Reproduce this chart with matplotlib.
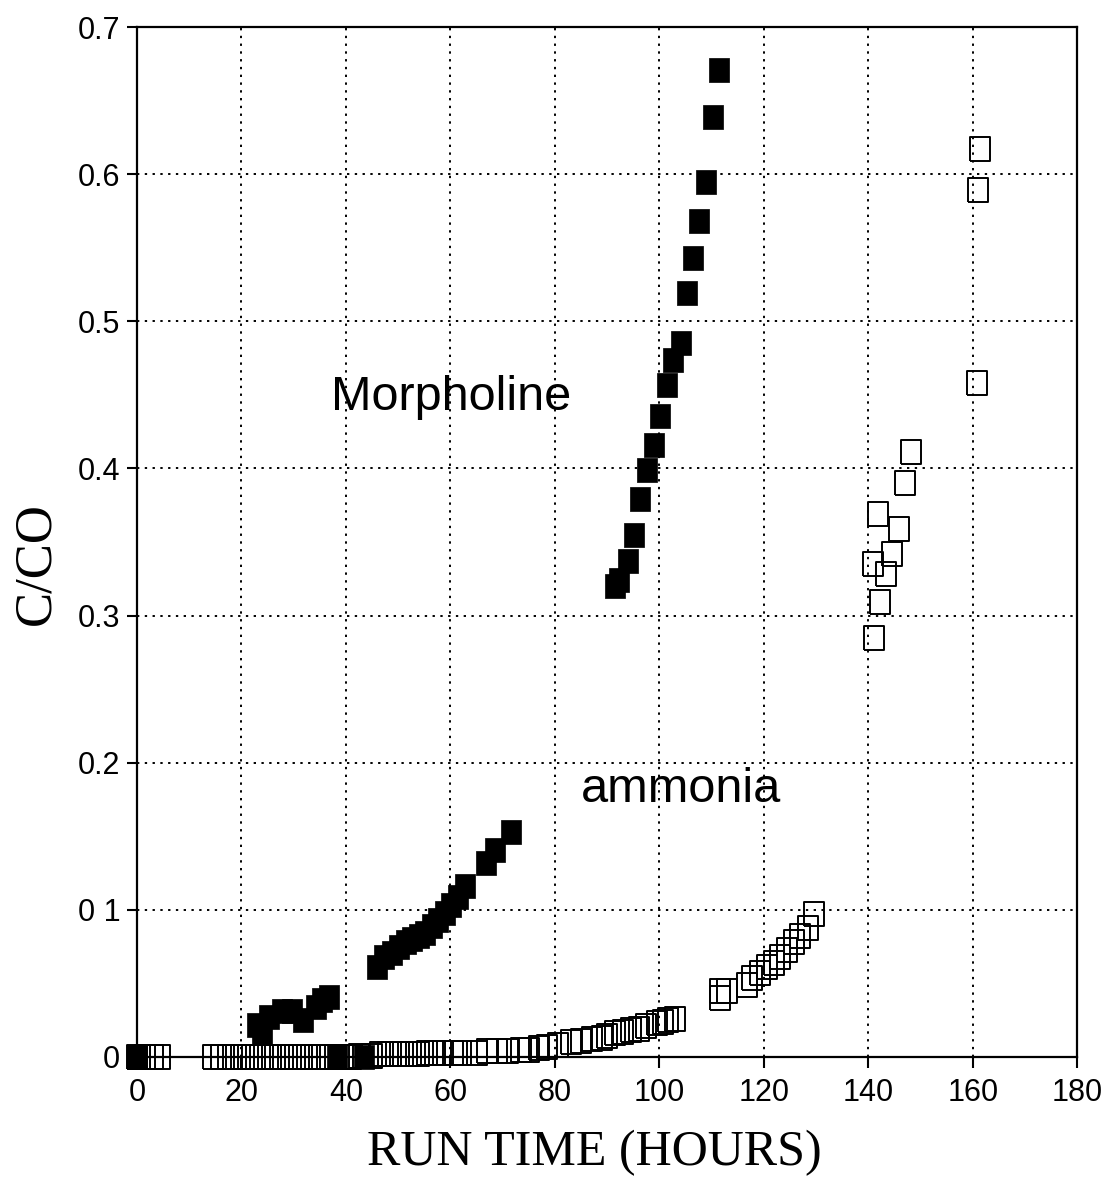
import matplotlib
matplotlib.use('Agg')
import matplotlib.pyplot as plt

# run 1 (filled squares)
run1_hours = [0, 38.3, 43.5,
              22.9, 24.0, 25.3, 27.8, 29.7, 31.7, 34.3, 35.5, 36.8,
              45.9, 47.2, 48.8, 50.1, 51.4, 52.6, 53.9, 55.2, 56.4, 57.7,
              59.0, 60.2, 61.5, 62.8, 66.9, 68.6, 71.6,
              91.5, 92.3, 93.9, 95.1, 96.3, 97.7, 98.9, 100.1, 101.4, 102.6,
              104.1, 105.2, 106.4, 107.6, 108.9, 110.3, 111.4]
run1_ratio = [0, 0, 0,
              0.022, 0.017, 0.027, 0.031, 0.031, 0.025, 0.034, 0.039, 0.041,
              0.061, 0.068, 0.071, 0.075, 0.078, 0.080, 0.082, 0.084, 0.089, 0.093,
              0.098, 0.103, 0.109, 0.116, 0.132, 0.141, 0.153,
              0.320, 0.324, 0.337, 0.355, 0.379, 0.399, 0.416, 0.436, 0.457, 0.474,
              0.485, 0.519, 0.543, 0.568, 0.595, 0.639, 0.671]

# run 2 (open squares)
run2_hours = [0, 1.5, 3.0, 4.5,
              14.5, 16, 17.5, 19, 20.5, 22, 23.5, 25, 26.5, 28, 29.5, 31, 32.5, 34, 35.5, 37,
              39.5, 41, 42.5, 45, 46.5, 48, 49.5, 51, 52.5, 54, 55.5, 57, 58.5,
              60.5, 62, 65, 67, 69, 71, 73.5, 75, 77, 78.5, 80.5, 83, 85, 87, 89,
              90, 91.5, 93, 94.5, 96, 97.5, 99.5, 100.7, 101.7, 103,
              111.6, 111.6, 113.0, 116.8, 117.7, 119.2, 120.5, 121.9, 123.0,
              124.4, 125.7, 126.9, 128.5, 129.5,
              141.0, 142.2, 143.3, 140.8, 144.6, 145.8, 141.9, 147.0, 148.2,
              160.8, 161.0, 161.4]
run2_ratio = [0, 0, 0, 0,
              0, 0, 0, 0, 0, 0, 0, 0, 0, 0, 0, 0, 0, 0, 0, 0,
              0, 0, 0.001, 0.001, 0.002, 0.002, 0.002, 0.002, 0.002, 0.002, 0.003, 0.003, 0.003,
              0.003, 0.003, 0.003, 0.004, 0.004, 0.004, 0.005, 0.005, 0.006, 0.007, 0.008,
              0.010, 0.011, 0.012, 0.013,
              0.014, 0.016, 0.017, 0.018, 0.019, 0.021, 0.023, 0.024, 0.025, 0.026,
              0.040, 0.045, 0.045, 0.049, 0.054, 0.057, 0.061, 0.064, 0.068,
              0.073, 0.078, 0.082, 0.088, 0.097,
              0.285, 0.309, 0.328, 0.335, 0.342, 0.359, 0.369, 0.390, 0.411,
              0.458, 0.589, 0.617]

x_ticks = [0, 20, 40, 60, 80, 100, 120, 140, 160, 180]
y_ticks = [0, 0.1, 0.2, 0.3, 0.4, 0.5, 0.6, 0.7]
y_tick_labels = ['0', '0 1', '0.2', '0.3', '0.4', '0.5', '0.6', '0.7']

# slightly tall rectangle marker, like the scanned squares
box = [(-0.43, -0.5), (0.43, -0.5), (0.43, 0.5), (-0.43, 0.5), (-0.43, -0.5)]

fig = plt.figure(figsize=(11.09, 11.79), dpi=100)
ax = fig.add_axes([0.1235, 0.1035, 0.848, 0.8735])

ax.plot(run2_hours, run2_ratio, linestyle='none', marker=box, markersize=17,
        markerfacecolor='none', markeredgecolor='black', markeredgewidth=1.4,
        zorder=3, clip_on=False)
ax.plot(run1_hours, run1_ratio, linestyle='none', marker=box, markersize=17,
        markerfacecolor='black', markeredgecolor='black', markeredgewidth=0.5,
        zorder=4, clip_on=False)

ax.set_xlim(0, 180)
ax.set_ylim(0, 0.7)
ax.set_xticks(x_ticks)
ax.set_yticks(y_ticks)
ax.set_yticklabels(y_tick_labels)

ax.grid(True, color='black', linestyle=(0, (1.2, 2.8)), linewidth=1.4)
ax.set_axisbelow(True)

for s in ax.spines.values():
    s.set_linewidth(1.6)

ax.tick_params(direction='out', length=8, width=1.5, pad=7,
               labelsize=22, labelfontfamily='Liberation Sans')
ax.tick_params(axis='y', length=7, pad=5)

ax.text(37.1, 0.440, 'Morpholine', fontsize=35, family='Liberation Sans')
ax.text(85, 0.173, 'ammonia', fontsize=35, family='Liberation Sans')

fig.text(0.536, 0.012, 'RUN TIME (HOURS)', fontsize=36, family='Liberation Serif',
         ha='center', va='baseline')
fig.text(0.033, 0.522, 'C/CO', fontsize=38, family='Liberation Serif',
         rotation=90, ha='center', va='center')

fig.savefig('out.png', dpi=100)
